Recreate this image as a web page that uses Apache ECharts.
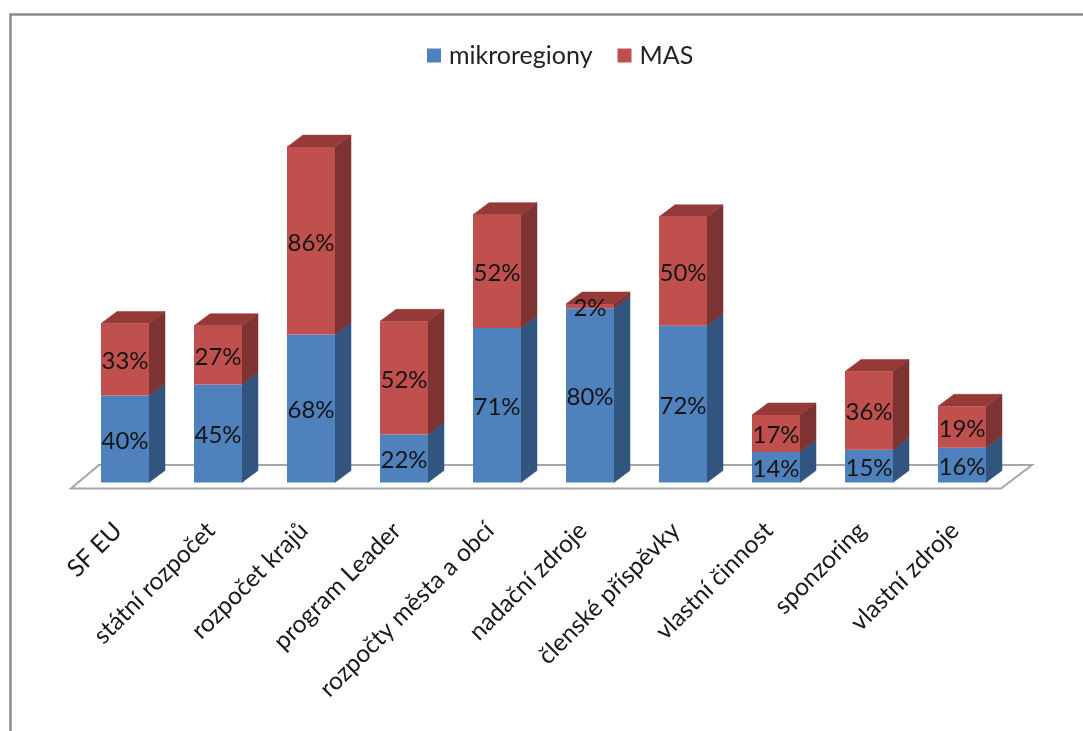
<!DOCTYPE html>
<html>
<head>
<meta charset="utf-8">
<style>html,body{margin:0;padding:0;background:#fff}#chart{width:1083px;height:731px}</style>
<script src="https://cdn.jsdelivr.net/npm/echarts@6/dist/echarts.min.js"></script>
</head>
<body>
<div id="chart"></div>
<script>
const categories = ['SF EU','státní rozpočet','rozpočet krajů','program Leader','rozpočty města a obcí','nadační zdroje','členské příspěvky','vlastní činnost','sponzoring','vlastní zdroje'];
const mikroregiony = [40,45,68,22,71,80,72,14,15,16];
const mas = [33,27,86,52,52,2,50,17,36,19];

const FONT = 'Lato, "Open Sans", sans-serif';
const BAR_W = 48, DX = 16, DY = 12;
const colors = {
  blue: '#4f81bd', blueSide: '#32557f',
  red: '#c0504d', redSide: '#7c3331', redTop: '#953a38'
};

const chart = echarts.init(document.getElementById('chart'));

// Draws the receding side and top faces of each stacked column.
function renderDepth(params, api) {
  const i = api.value(0), low = api.value(1), high = api.value(2);
  const total = low + high;
  const x = api.coord([i, 0])[0] + BAR_W / 2;
  const y0 = api.coord([i, 0])[1];
  const y1 = api.coord([i, low])[1];
  const y2 = api.coord([i, total])[1];
  const face = (pts, fill) => ({
    type: 'polygon', shape: { points: pts },
    style: { fill: fill, stroke: fill, lineWidth: 0.5 }
  });
  return {
    type: 'group',
    children: [
      face([[x, y0], [x + DX, y0 - DY], [x + DX, y1 - DY], [x, y1]], colors.blueSide),
      face([[x, y1], [x + DX, y1 - DY], [x + DX, y2 - DY], [x, y2]], colors.redSide),
      face([[x - BAR_W, y2], [x - BAR_W + DX, y2 - DY], [x + DX, y2 - DY], [x, y2]], colors.redTop)
    ]
  };
}

const dataLabel = {
  show: true, position: 'inside', formatter: '{c}%', offset: [0, 2],
  fontFamily: FONT, fontSize: 24, color: '#151515'
};

chart.setOption({
  animation: false,
  backgroundColor: '#fff',
  graphic: [
    // outer chart frame (open on the right)
    { type: 'polyline', z: 0, shape: { points: [[1083, 14.5], [10.5, 14.5], [10.5, 731]] },
      style: { stroke: '#8c8c8c', lineWidth: 2.5, fill: 'none' } },
    // chart floor
    { type: 'polygon', z: 0, shape: { points: [[71, 488.5], [99, 465], [1032, 465], [1001, 488.5]] },
      style: { stroke: '#a6a6a6', lineWidth: 2, fill: '#fff' } }
  ],
  legend: {
    data: ['mikroregiony', 'MAS'],
    top: 38, left: 422,
    icon: 'rect', itemWidth: 14, itemHeight: 14, itemGap: 25,
    textStyle: { fontFamily: FONT, fontSize: 25, color: '#222', padding: [0, 0, 0, 3] }
  },
  grid: { left: 78.5, width: 930, top: 90.5, height: 392 },
  xAxis: {
    type: 'category', data: categories,
    axisLine: { show: false }, axisTick: { show: false },
    axisLabel: {
      interval: 0, rotate: 45, margin: 37, padding: [0, 10, 0, 0],
      fontFamily: FONT, fontSize: 24.5, color: '#1a1a1a'
    }
  },
  yAxis: { type: 'value', min: 0, max: 180, show: false, splitLine: { show: false } },
  series: [
    { type: 'custom', renderItem: renderDepth, z: 1, silent: true,
      encode: { x: 0, y: [1, 2] },
      data: categories.map((c, i) => [i, mikroregiony[i], mas[i]]) },
    { name: 'mikroregiony', type: 'bar', stack: 'total', z: 2, barWidth: BAR_W,
      itemStyle: { color: colors.blue }, label: dataLabel, data: mikroregiony },
    { name: 'MAS', type: 'bar', stack: 'total', z: 2, barWidth: BAR_W,
      itemStyle: { color: colors.red }, label: dataLabel, data: mas }
  ]
});
</script>
</body>
</html>
